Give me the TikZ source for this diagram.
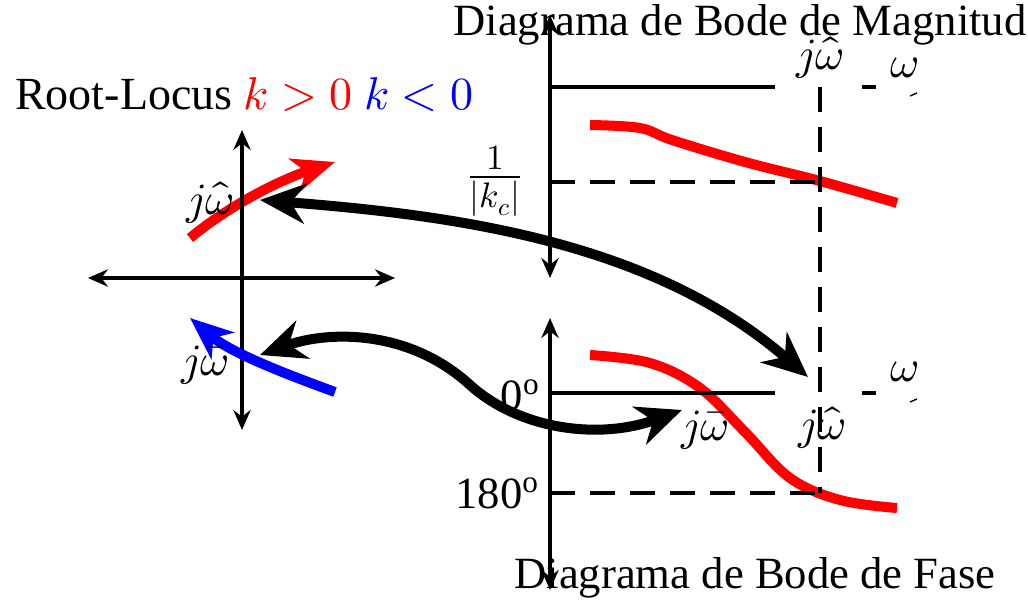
\documentclass[tikz,border=0pt]{standalone}
\usepackage{unicode-math}
\setmainfont{Liberation Serif}
\setmathfont{Latin Modern Math}
\usetikzlibrary{arrows.meta}
\begin{document}
\begin{tikzpicture}[x=0.75pt,y=-0.75pt,
  every node/.style={font=\fontsize{33.5}{40}\selectfont, inner sep=0pt},
  axis/.style={line width=2.3pt, {Stealth[length=15pt,width=13pt,inset=5pt]}-{Stealth[length=15pt,width=13pt,inset=5pt]}},
  plain/.style={line width=2.3pt},
  dsh/.style={line width=2.3pt, dash pattern=on 18.75pt off 11.25pt},
  bigarrow/.style={line width=7.5pt, {Stealth[length=34pt,width=30pt,inset=11pt]}-{Stealth[length=34pt,width=30pt,inset=11pt]}},
  locus/.style={line width=7.5pt, -{Stealth[length=32pt,width=26pt,inset=9pt]}},
  curve/.style={line width=7.5pt, red}]
\useasboundingbox (0,0) rectangle (1028,602);

% titles
\node (t1) at (740,25) {Diagrama de Bode de Magnitud};
\node (t2) at (755,578) {Diagrama de Bode de Fase};
\node[anchor=west, font=\fontsize{34.5}{40}\selectfont] (rl) at (15,95) {Root-Locus \textcolor{red}{$k>0$} \textcolor{blue}{$k<0$}};

% coordinates
\coordinate (ly1) at (242,130);
\coordinate (ly2) at (242,430);
\coordinate (lx1) at (88,278);
\coordinate (lx2) at (395,278);
\coordinate (my1) at (550,15);
\coordinate (my2) at (550,278);
\coordinate (py1) at (550,318);
\coordinate (py2) at (550,590);

% red magnitude / phase curves
\draw[curve] plot[smooth, tension=0.6] coordinates {(590,125) (640,128) (672,140) (745,162) (820,181) (897,203)};
\draw[curve] plot[smooth, tension=0.6] coordinates {(590,355) (650,363) (700,388) (745,432) (790,478) (840,500) (897,508)};

% red locus
\draw[locus, red] (190,238) .. controls (230,205) and (280,180) .. (335,162);

% left axes
\draw[axis] (ly1) -- (ly2);
\draw[axis] (lx1) -- (lx2);

% blue locus
\draw[locus, blue] (335,392) .. controls (280,372) and (230,352) .. (190,318);

% Bode magnitude axes
\draw[axis] (my1) -- (my2);
\draw[plain] (550,87) -- (775,87);
\draw[plain] (862,87) -- (876,87);
\draw[line width=1pt] (910,96) -- (917,93);
\draw[dsh] (820,87) -- (820,493);
\draw[dsh] (550,182) -- (820,182);

% Bode phase axes
\draw[axis] (py1) -- (py2);
\draw[plain] (550,393) -- (775,393);
\draw[plain] (862,393) -- (876,393);
\draw[line width=1pt] (910,402) -- (917,399);
\draw[dsh] (550,493) -- (820,493);

% labels
\node[font=\fontsize{38}{44}\selectfont] (kc) at (495,181) {$\frac{1}{|k_c|}$};
\node (zero) at (520,395) {0$^{\mathrm{o}}$};
\node (oneeighty) at (497,493) {180$^{\mathrm{o}}$};
\node (jwh1) at (820,58) {$j\hat\omega$};
\node (w1) at (905,68) {$\omega$};
\node (w2) at (905,372) {$\omega$};
\node (jwh2) at (822,428) {$j\hat\omega$};
\node (jwb2) at (705,430) {$j\bar\omega$};
\node (jwhl) at (210,203) {$j\hat\omega$};
\node (jwbl) at (205,365) {$j\bar\omega$};

\coordinate (a1s) at (260,200);
\coordinate (a1e) at (808,377);
\coordinate (a2s) at (260,355);
\coordinate (a2e) at (682,410);

% big black arrows
\draw[bigarrow] (a1s) .. controls (450,215) and (650,240) .. (a1e);
\draw[bigarrow] (a2s) .. controls (330,330) and (410,330) .. (470,385) .. controls (520,430) and (600,440) .. (a2e);
\end{tikzpicture}
\end{document}
